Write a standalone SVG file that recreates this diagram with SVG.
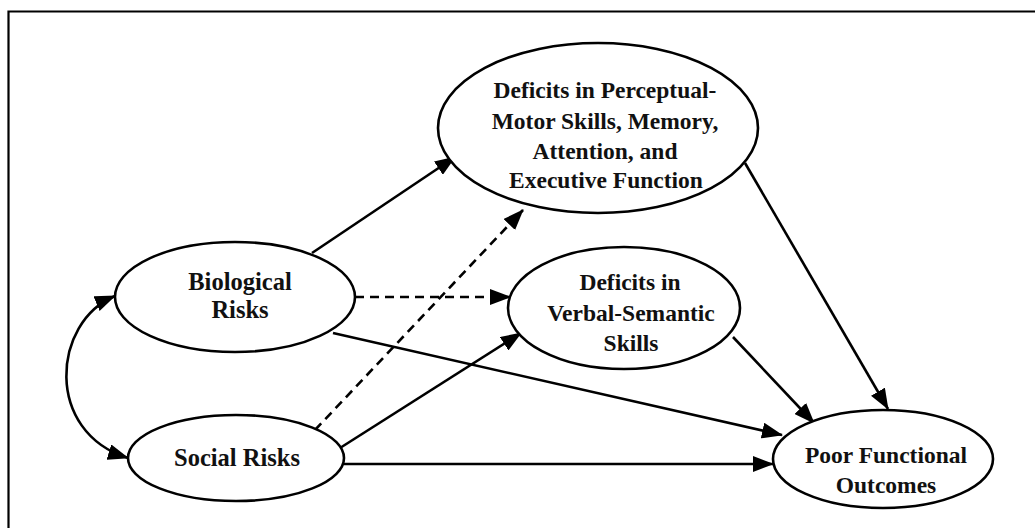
<svg xmlns="http://www.w3.org/2000/svg" width="1035" height="528" viewBox="0 0 1035 528">
<style>
.node ellipse{fill:#fff;stroke:#000;stroke-width:2.6}
.node text{font-family:"Liberation Serif","Times New Roman",serif;font-weight:bold;font-size:23.5px;fill:#111;text-anchor:middle}
.big text{font-size:24.5px}
.edge{fill:none;stroke:#000;stroke-width:2.6}
.dash{stroke-dasharray:9 6}
</style>
<defs>
<marker id="ah" viewBox="0 0 21 16" refX="20" refY="8" markerWidth="21" markerHeight="16" markerUnits="userSpaceOnUse" orient="auto-start-reverse">
<path d="M0,0 L21,8 L0,16 Z" fill="#000"/>
</marker>
</defs>
<rect x="0" y="0" width="1035" height="528" fill="#fff"/>
<path d="M8.5,528 L8.5,11.5 L1035,11.5" fill="none" stroke="#000" stroke-width="2.2"/>
<g id="connectors">
<path class="edge" d="M115,296 C52,322 44,432 128,458" marker-start="url(#ah)" marker-end="url(#ah)"/>
<path class="edge" d="M312,253 L455,157" marker-end="url(#ah)"/>
<path class="edge dash" d="M355,297 L510,297" marker-end="url(#ah)"/>
<path class="edge" d="M333,333 L782,435" marker-end="url(#ah)"/>
<path class="edge dash" d="M315,430 L523,210" marker-end="url(#ah)"/>
<path class="edge" d="M340,448 L521,333" marker-end="url(#ah)"/>
<path class="edge" d="M343,464 L773,464" marker-end="url(#ah)"/>
<path class="edge" d="M733,337 L814,423" marker-end="url(#ah)"/>
<path class="edge" d="M745,163 L888,409" marker-end="url(#ah)"/>
</g>
<g id="biological" class="node big">
<ellipse cx="235" cy="297" rx="120" ry="55"/>
<text x="240" y="290">Biological</text>
<text x="240" y="318">Risks</text>
</g>
<g id="social" class="node big">
<ellipse cx="236" cy="458" rx="108" ry="43"/>
<text x="237" y="466">Social Risks</text>
</g>
<g id="perceptual" class="node">
<ellipse cx="598" cy="128" rx="160" ry="85"/>
<text x="605" y="98">Deficits in Perceptual-</text>
<text x="605" y="129">Motor Skills, Memory,</text>
<text x="605" y="159">Attention, and</text>
<text x="606" y="188">Executive Function</text>
</g>
<g id="verbal" class="node">
<ellipse cx="624" cy="308" rx="116" ry="61"/>
<text x="630" y="290">Deficits in</text>
<text x="631" y="321">Verbal-Semantic</text>
<text x="631" y="351">Skills</text>
</g>
<g id="outcomes" class="node">
<ellipse cx="883" cy="459" rx="110" ry="49"/>
<text x="886" y="463">Poor Functional</text>
<text x="886" y="493">Outcomes</text>
</g>
</svg>
